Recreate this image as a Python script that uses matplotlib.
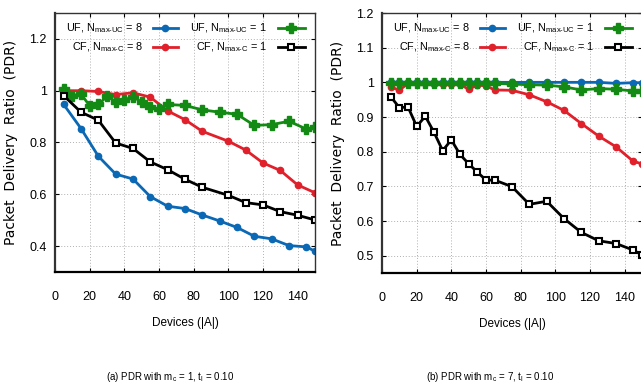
import matplotlib
matplotlib.use("Agg")
import matplotlib.pyplot as plt
from matplotlib.lines import Line2D

# ---------------- data ----------------
# panel (a): m_c = 1
a_x_uf8 = [5, 15, 25, 35, 45, 55, 65, 75, 85, 95, 105, 115, 125, 135, 145, 150]
a_uf8 = [0.947, 0.854, 0.747, 0.678, 0.659, 0.591, 0.554, 0.545, 0.520, 0.497,
         0.472, 0.438, 0.428, 0.402, 0.397, 0.380]
a_x_cf = [5, 15, 25, 35, 45, 55, 65, 75, 85, 100, 110, 120, 130, 140, 150]
a_cf8 = [1.0, 1.0, 0.997, 0.985, 0.992, 0.975, 0.922, 0.888, 0.843, 0.805,
         0.771, 0.721, 0.692, 0.636, 0.606]
a_x_uf1 = [5, 10, 15, 20, 25, 30, 35, 40, 45, 50, 55, 60, 65, 75, 85, 95, 105,
           115, 125, 135, 145, 150]
a_uf1 = [1.005, 0.981, 0.987, 0.942, 0.947, 0.978, 0.958, 0.964, 0.977, 0.956,
         0.938, 0.928, 0.947, 0.943, 0.926, 0.917, 0.909, 0.866, 0.869, 0.882,
         0.852, 0.858]
a_cf1 = [0.981, 0.917, 0.886, 0.798, 0.777, 0.725, 0.695, 0.658, 0.627, 0.596,
         0.568, 0.559, 0.533, 0.519, 0.501]

# panel (b): m_c = 7
b_x = [5, 10, 15, 20, 25, 30, 35, 40, 45, 50, 55, 60, 65, 75, 85, 95, 105,
       115, 125, 135, 145, 150]
b_uf8 = [1.0, 1.0, 1.0, 1.0, 1.0, 1.0, 1.0, 1.0, 1.0, 1.0, 1.0, 1.0, 1.0,
         1.0, 1.0, 1.0, 1.0, 1.0, 1.0, 0.997, 0.999, 0.999]
b_cf8 = [0.987, 0.977, 0.997, 0.998, 0.997, 0.996, 0.996, 0.995, 0.994, 0.980,
         0.992, 0.990, 0.978, 0.977, 0.964, 0.944, 0.919, 0.881, 0.845, 0.814,
         0.772, 0.765]
b_uf1 = [0.999, 0.998, 0.998, 0.998, 0.998, 0.998, 0.998, 0.998, 0.998, 0.998,
         0.998, 0.998, 0.997, 0.995, 0.993, 0.992, 0.987, 0.978, 0.982, 0.980,
         0.975, 0.976]
b_cf1 = [0.959, 0.927, 0.929, 0.873, 0.902, 0.856, 0.803, 0.834, 0.792, 0.765,
         0.741, 0.718, 0.718, 0.699, 0.648, 0.657, 0.607, 0.567, 0.543, 0.535,
         0.516, 0.502]

labels = [r"UF, N$_\mathregular{max\text{-}UC}$ = 8",
          r"CF, N$_\mathregular{max\text{-}C}$ = 8",
          r"UF, N$_\mathregular{max\text{-}UC}$ = 1",
          r"CF, N$_\mathregular{max\text{-}C}$ = 1"]
captions = [r"(a) PDR with m$_\mathregular{c}$ = 1, t$_\mathregular{l}$ = 0.10",
            r"(b) PDR with m$_\mathregular{c}$ = 7, t$_\mathregular{l}$ = 0.10"]
x_ticks = [0, 20, 40, 60, 80, 100, 120, 140]
a_yticks = [0.4, 0.6, 0.8, 1.0, 1.2]
b_yticks = [0.5, 0.6, 0.7, 0.8, 0.9, 1.0, 1.1, 1.2]

# ---------------- style ----------------
plt.rcParams["font.family"] = ["Liberation Sans", "DejaVu Sans"]
plt.rcParams["mathtext.fontset"] = "custom"
plt.rcParams["mathtext.rm"] = "Liberation Sans"
plt.rcParams["mathtext.it"] = "Liberation Sans"

BLUE = "#0a68b4"
RED = "#e0202a"
GREEN = "#138a13"
BLACK = "#000000"

styles = [
    dict(color=BLUE, marker="o", ms=4.5, mfc=BLUE, mec=BLUE),
    dict(color=RED, marker="o", ms=4.5, mfc=RED, mec=RED),
    dict(color=GREEN, marker="P", ms=6.5, mfc=GREEN, mec=GREEN),
    dict(color=BLACK, marker="s", ms=5, mfc="white", mec=BLACK, mew=1.5),
]
LW = 2.0

fig = plt.figure(figsize=(6.41, 3.85), dpi=100)
axa = fig.add_axes([55 / 641, 1 - 272 / 385, 260 / 641, 259 / 385])
axb = fig.add_axes([382 / 641, 1 - 273 / 385, 260 / 641, 260 / 385])


def setup(ax, ylim, yticks):
    ax.set_xlim(0, 150)
    ax.set_ylim(*ylim)
    ax.set_xticks(x_ticks)
    ax.set_yticks(yticks)
    ax.set_yticklabels(["%g" % v for v in yticks])
    ax.grid(True, linestyle=(0, (1, 2)), color="#b0b0b0", linewidth=0.7)
    ax.set_axisbelow(True)
    ax.tick_params(direction="in", top=True, right=True, length=3,
                   width=0.8, labelsize=9, pad=6)
    ax.tick_params(axis="x", pad=14)
    for s in ax.spines.values():
        s.set_linewidth(1.0)
        s.set_color("#333333")
    ax.spines["left"].set_linewidth(1.6)
    ax.spines["bottom"].set_linewidth(1.6)
    ax.spines["bottom"].set_color("black")
    ax.set_xlabel("Devices (|A|)", fontsize=8.5, labelpad=10)
    ax.set_ylabel("Packet  Delivery  Ratio  (PDR)", fontsize=10,
                  family=["DejaVu Sans"], labelpad=8)


def legend(ax):
    rows = [0.942, 0.869]
    cols = [(0.338, 0.375, 0.473), (0.815, 0.856, 0.962)]
    order = [(0, 0, 0), (1, 0, 1), (2, 1, 0), (3, 1, 1)]
    for idx, c, r in order:
        tx, l0, l1 = cols[c]
        y = rows[r]
        ax.text(tx, y, labels[idx], transform=ax.transAxes, ha="right",
                va="center", fontsize=7.8)
        st = styles[idx]
        ax.add_line(Line2D([l0, l1], [y, y], transform=ax.transAxes,
                           color=st["color"], lw=LW, clip_on=False))
        ax.add_line(Line2D([(l0 + l1) / 2], [y], transform=ax.transAxes,
                           linestyle="none", marker=st["marker"], ms=st["ms"],
                           mfc=st["mfc"], mec=st["mec"],
                           mew=st.get("mew", 1.0), clip_on=False))


# panel a
axa.plot(a_x_uf8, a_uf8, lw=LW, **styles[0])
axa.plot(a_x_cf, a_cf8, lw=LW, **styles[1])
axa.plot(a_x_uf1, a_uf1, lw=LW, **styles[2])
axa.plot(a_x_cf, a_cf1, lw=LW, **styles[3])
setup(axa, (0.3, 1.3), a_yticks)
legend(axa)

# panel b
axb.plot(b_x, b_uf8, lw=LW, **styles[0])
axb.plot(b_x, b_cf8, lw=LW, **styles[1])
axb.plot(b_x, b_uf1, lw=LW, **styles[2])
axb.plot(b_x, b_cf1, lw=LW, **styles[3])
setup(axb, (0.45, 1.2), b_yticks)
legend(axb)

fig.text(170 / 641, 1 - 377 / 385, captions[0], ha="center", va="center",
         fontsize=7)
fig.text(490 / 641, 1 - 377 / 385, captions[1], ha="center", va="center",
         fontsize=7)

fig.savefig("out.png", dpi=100)
